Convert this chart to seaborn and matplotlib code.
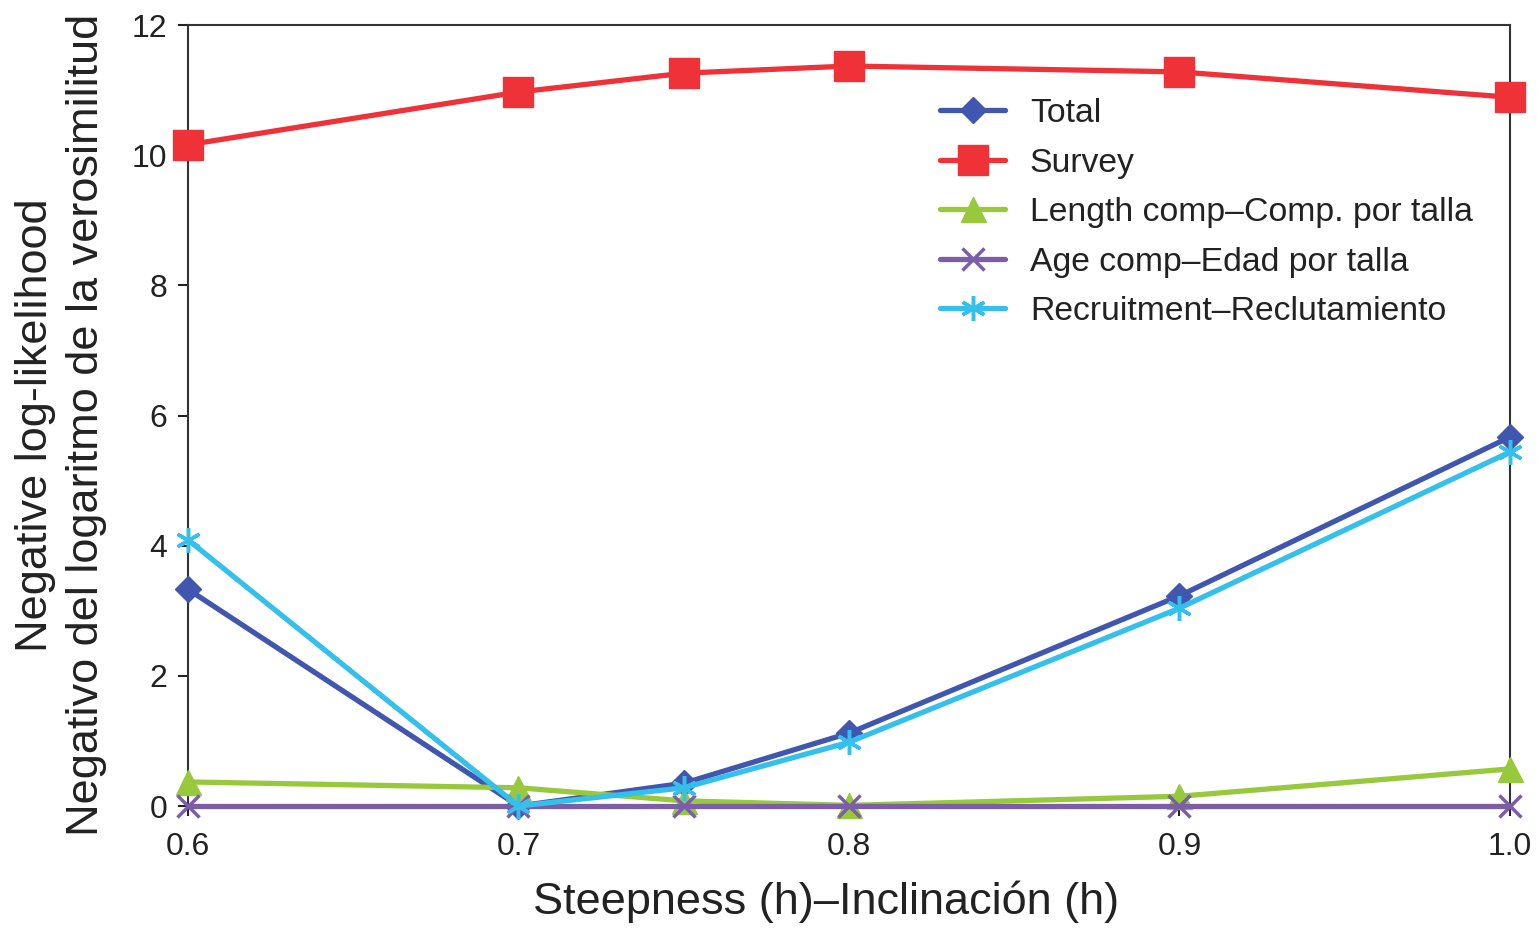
import numpy as np
import pandas as pd
import matplotlib
matplotlib.use("Agg")
import matplotlib.pyplot as plt
import seaborn as sns
from matplotlib.lines import Line2D

steepness = [0.6, 0.7, 0.75, 0.8, 0.9, 1.0]
total = [3.33, 0.0, 0.35, 1.12, 3.23, 5.67]
survey = [10.16, 10.97, 11.26, 11.37, 11.28, 10.89]
length_comp = [0.37, 0.28, 0.08, 0.01, 0.15, 0.57]
age_comp = [0.0, 0.0, 0.0, 0.0, 0.0, 0.0]
recruitment = [4.09, 0.0, 0.28, 0.98, 3.04, 5.44]

series_names = ["Total", "Survey", "Length comp\u2013Comp. por talla",
                "Age comp\u2013Edad por talla", "Recruitment\u2013Reclutamiento"]
x_ticks = [0.6, 0.7, 0.8, 0.9, 1.0]
x_tick_labels = ["0.6", "0.7", "0.8", "0.9", "1.0"]
y_ticks = [0, 2, 4, 6, 8, 10, 12]

sns.set_theme(style="white")
plt.rcParams['font.family'] = ['Liberation Sans', 'DejaVu Sans']

colors = ["#4156AE", "#EE3237", "#98C93C", "#7B5EA7", "#35C0EC"]
markers = ["D", "s", "^", "x", (6, 2, 0)]
msizes = [13, 21, 18, 16, 18]

fig = plt.figure(figsize=(15.37, 9.30), dpi=100)
ax = fig.add_axes([0.1223, 0.1333, 0.9824 - 0.1223, 0.9731 - 0.1333])

values = [total, survey, length_comp, age_comp, recruitment]
handles = []
for name, vals, c, m, ms in zip(series_names, values, colors, markers, msizes):
    df = pd.DataFrame({"x": steepness, "y": vals})
    mew = 2.5 if m in ("x", (6, 2, 0)) else 1
    sns.lineplot(data=df, x="x", y="y", ax=ax, color=c, linewidth=3.8,
                 marker=m, markersize=ms, markeredgecolor=c, markerfacecolor=c,
                 markeredgewidth=mew, clip_on=False, zorder=3)
    handles.append(Line2D([0], [0], color=c, linewidth=3.8, marker=m,
                          markersize=ms, markeredgecolor=c, markerfacecolor=c,
                          markeredgewidth=mew))

ax.set_xlim(0.6, 1.0)
ax.set_ylim(0, 12)
ax.set_xticks(x_ticks)
ax.set_xticklabels(x_tick_labels)
ax.set_yticks(y_ticks)
ax.tick_params(axis="both", direction="out", length=7, width=1.5, colors="#222222",
               labelsize=23, bottom=True, left=True)
ax.tick_params(axis="x", pad=12)
ax.tick_params(axis="y", pad=8)
for s in ax.spines.values():
    s.set_color("#333333")
    s.set_linewidth(1.5)

ax.set_xlabel("Steepness (h)\u2013Inclinaci\u00f3n (h)", fontsize=32.5, color="#222222", labelpad=13)
ax.xaxis.label.set_x(0.4826)
ax.set_ylabel("Negative log-likelihood\nNegativo del logaritmo de la verosimilitud",
              fontsize=32.5, color="#222222", labelpad=18, linespacing=1.3)
ax.yaxis.label.set_y(0.4878)

leg = ax.legend(handles, series_names, loc="upper left", bbox_to_anchor=(0.569, 0.9065),
                frameon=False, fontsize=24.3, handlelength=1.92, handletextpad=0.74,
                labelspacing=0.55, borderpad=0, borderaxespad=0)
for t in leg.get_texts():
    t.set_color("#222222")

fig.savefig("out.png", dpi=100)
